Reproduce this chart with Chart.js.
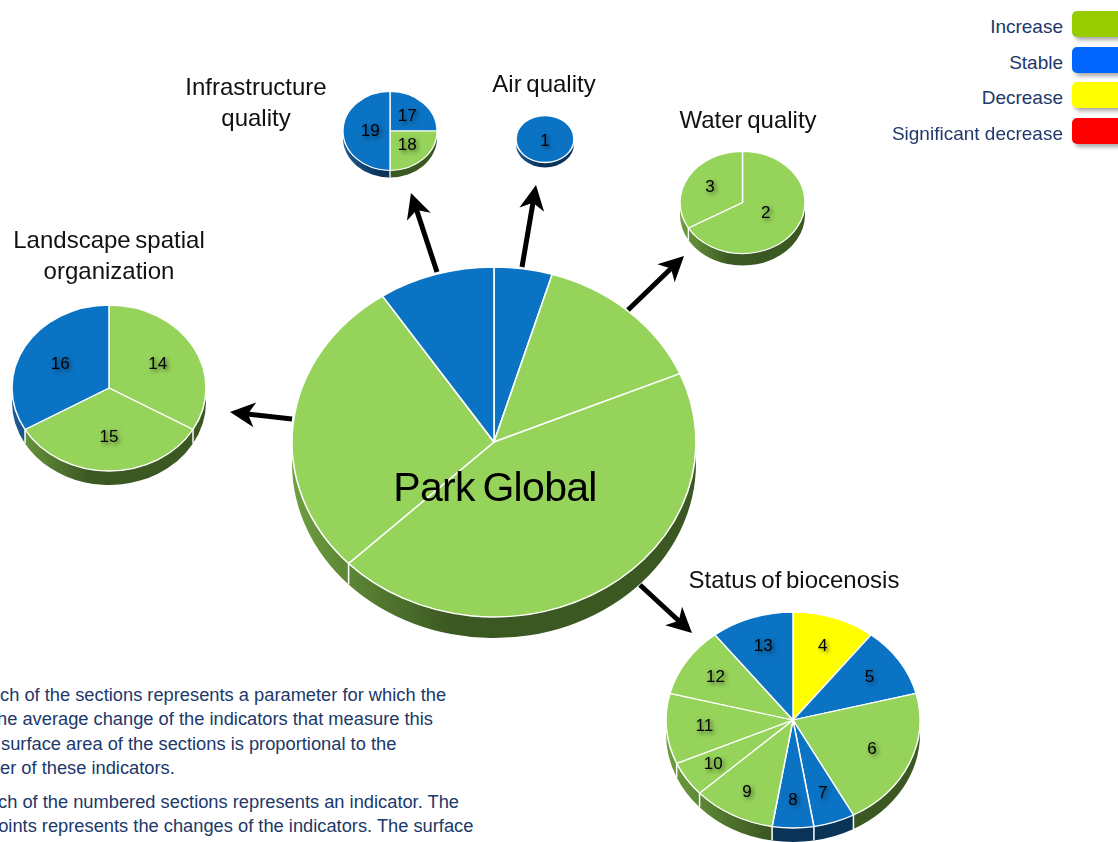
<!DOCTYPE html>
<html>
<head>
<meta charset="utf-8">
<title>Park Global – change of parameters and indicators</title>
<script src="https://cdn.jsdelivr.net/npm/chart.js@4.4.0/dist/chart.umd.min.js"></script>
<style>
  html, body { margin: 0; padding: 0; background: #ffffff; }
  #stage {
    position: relative; width: 1118px; height: 842px; overflow: hidden;
    font-family: "Liberation Sans", Arial, Helvetica, sans-serif;
  }
  .pie { position: absolute; }
  .title {
    position: absolute; width: 320px; text-align: center;
    font-size: 24px; line-height: 31px; color: #111111; word-spacing: -2px;
    white-space: pre;
  }
  .park {
    position: absolute; width: 400px; text-align: center;
    font-size: 41px; line-height: 41px; color: #000000; letter-spacing: -0.7px; word-spacing: -3px;
    white-space: nowrap;
  }
  .legend-text {
    position: absolute; right: 55px; font-size: 19px; line-height: 19px;
    color: #20386a; white-space: nowrap; text-align: right;
  }
  .swatch {
    position: absolute; left: 1072px; width: 64px; height: 26px; border-radius: 5px;
    box-shadow: 3px 3px 4px rgba(0, 0, 0, 0.35);
  }
  .note {
    position: absolute; font-size: 18.3px; line-height: 24px; color: #20386a;
    white-space: pre;
  }
  #arrows { position: absolute; left: 0; top: 0; }
</style>
</head>
<body>
<div id="stage"></div>
<script>
// ---- data -------------------------------------------------------------
// Park-wide parameters (clockwise from 12 o'clock) with their weight and trend
const parkParams  = ['Air quality', 'Water quality', 'Status of biocenosis', 'Landscape spatial organization', 'Infrastructure quality'];
const parkWeights = [1, 3, 9.5, 6, 2];
const parkTrends  = ['stable', 'increase', 'increase', 'increase', 'stable'];

// Indicators of each parameter (numbered sections)
const airIndicators   = ['1'];
const airWeights      = [1];
const airTrends       = ['stable'];

const waterIndicators = ['2', '3'];
const waterWeights    = [2, 1];
const waterTrends     = ['increase', 'increase'];

const bioIndicators   = ['4', '5', '6', '7', '8', '9', '10', '11', '12', '13'];
const bioWeights      = [2, 2, 4, 1, 1, 2, 1, 2, 2, 2];
const bioTrends       = ['decrease', 'stable', 'increase', 'stable', 'stable', 'increase', 'increase', 'increase', 'increase', 'stable'];

const landIndicators  = ['14', '15', '16'];
const landWeights     = [1, 1, 1];
const landTrends      = ['increase', 'increase', 'stable'];

const infraIndicators = ['17', '18', '19'];
const infraWeights    = [1, 1, 2];
const infraTrends     = ['stable', 'increase', 'stable'];

// Legend
const legendTrends = ['increase', 'stable', 'decrease', 'significant decrease'];
const legendLabels = ['Increase', 'Stable', 'Decrease', 'Significant decrease'];

// ---- styles -----------------------------------------------------------
const TREND_FILL = {
  'increase': '#95d35a',
  'stable': '#0b73c3',
  'decrease': '#ffff00',
  'significant decrease': '#ff0000'
};
const TREND_SIDE = {
  'increase': ['#6f9f40', '#3b5722'],
  'stable': ['#1d5b93', '#0a3358'],
  'decrease': ['#c9c900', '#8a8a00'],
  'significant decrease': ['#c00000', '#800000']
};
const LEGEND_FILL = {
  'increase': '#99cc00',
  'stable': '#0066ff',
  'decrease': '#ffff00',
  'significant decrease': '#ff0000'
};

const stage = document.getElementById('stage');

// Tilted 3-D look: squash the pie vertically and extrude a side wall under it
function makeTilt(spec) {
  const k = spec.ry / spec.rx;
  return {
    id: 'tilt' + spec.key,
    beforeDatasetsDraw(chart) {
      const ctx = chart.ctx;
      const arcs = chart.getDatasetMeta(0).data;
      const x = arcs[0].x, y = arcs[0].y, r = arcs[0].outerRadius;
      const D = spec.depth / k;
      ctx.save();
      ctx.translate(0, y);
      ctx.scale(1, k);
      ctx.translate(0, -y);
      arcs.forEach((arc, i) => {
        const a0 = Math.max(arc.startAngle, 0);
        const a1 = Math.min(arc.endAngle, Math.PI);
        if (a1 <= a0) return;
        const side = TREND_SIDE[spec.trends[i]];
        const g = ctx.createLinearGradient(x - r, 0, x + r, 0);
        g.addColorStop(0, side[0]);
        g.addColorStop(0.4, side[1]);
        g.addColorStop(1, side[1]);
        ctx.fillStyle = g;
        ctx.beginPath();
        ctx.arc(x, y, r, a0, a1);
        ctx.arc(x, y + D, r, a1, a0, true);
        ctx.closePath();
        ctx.fill();
      });
      // white seams on the side wall between sections
      ctx.strokeStyle = '#ffffff';
      ctx.lineWidth = spec.border;
      arcs.forEach(arc => {
        let a = arc.startAngle;
        while (a < 0) a += Math.PI * 2;
        while (a >= Math.PI * 2) a -= Math.PI * 2;
        if (a > 0.05 && a < Math.PI - 0.05 && arcs.length > 1) {
          const px = x + r * Math.cos(a), py = y + r * Math.sin(a);
          ctx.beginPath();
          ctx.moveTo(px, py);
          ctx.lineTo(px, py + D);
          ctx.stroke();
        }
      });
    },
    afterDatasetsDraw(chart) {
      const ctx = chart.ctx;
      const arcs = chart.getDatasetMeta(0).data;
      if (spec.rim) {
        // light outline for a single, undivided section
        ctx.strokeStyle = '#ffffff';
        ctx.lineWidth = spec.rim;
        ctx.beginPath();
        ctx.arc(arcs[0].x, arcs[0].y, arcs[0].outerRadius, 0, Math.PI * 2);
        ctx.stroke();
      }
      ctx.restore();
      if (!spec.labelR) return;
      const labels = chart.data.labels;
      ctx.save();
      ctx.font = '17px "Liberation Sans", Arial, sans-serif';
      ctx.textAlign = 'center';
      ctx.textBaseline = 'middle';
      ctx.fillStyle = '#000000';
      ctx.shadowColor = 'rgba(0,0,0,0.55)';
      ctx.shadowBlur = 4;
      ctx.shadowOffsetX = 2;
      ctx.shadowOffsetY = 2;
      arcs.forEach((arc, i) => {
        const mid = (arc.startAngle + arc.endAngle) / 2;
        const f = spec.labelR[i];
        const px = arc.x + f * arc.outerRadius * Math.cos(mid);
        const py = arc.y + f * arc.outerRadius * Math.sin(mid) * k + (spec.labelDy || 0);
        ctx.fillText(labels[i], px, py);
      });
      ctx.restore();
    }
  };
}

function addPie(spec) {
  const P = 10 + spec.depth;
  const size = Math.round(2 * spec.rx + 2 * P);
  const holder = document.createElement('div');
  holder.className = 'pie';
  holder.style.left = (spec.cx - spec.rx - P) + 'px';
  holder.style.top = (spec.cy - spec.rx - P) + 'px';
  const canvas = document.createElement('canvas');
  canvas.width = size;
  canvas.height = size;
  canvas.style.width = size + 'px';
  canvas.style.height = size + 'px';
  holder.appendChild(canvas);
  stage.appendChild(holder);
  new Chart(canvas, {
    type: 'pie',
    data: {
      labels: spec.labels,
      datasets: [{
        data: spec.values,
        backgroundColor: spec.trends.map(t => TREND_FILL[t]),
        borderColor: '#ffffff',
        borderWidth: spec.border,
        hoverOffset: 0
      }]
    },
    options: {
      responsive: false,
      animation: false,
      events: [],
      radius: spec.rx,
      layout: { padding: P },
      plugins: { legend: { display: false }, tooltip: { enabled: false } }
    },
    plugins: [makeTilt(spec)]
  });
}

addPie({ key: 'park',  labels: parkParams,      values: parkWeights,  trends: parkTrends,
         cx: 494, cy: 442, rx: 202, ry: 175, depth: 21, border: 1.6, labelR: null });
addPie({ key: 'air',   labels: airIndicators,   values: airWeights,   trends: airTrends,
         cx: 545, cy: 139, rx: 29, ry: 23.5, depth: 5, border: 0, rim: 1.6, labelR: [0], labelDy: 2 });
addPie({ key: 'water', labels: waterIndicators, values: waterWeights, trends: waterTrends,
         cx: 742, cy: 202, rx: 62.5, ry: 51, depth: 12, border: 1.4, labelR: [0.43, 0.6] });
addPie({ key: 'bio',   labels: bioIndicators,   values: bioWeights,   trends: bioTrends,
         cx: 793, cy: 720, rx: 127, ry: 108, depth: 14, border: 1.5, labelR: [0.72, 0.72, 0.68, 0.72, 0.74, 0.76, 0.75, 0.7, 0.73, 0.72] });
addPie({ key: 'land',  labels: landIndicators,  values: landWeights,  trends: landTrends,
         cx: 109, cy: 388, rx: 97, ry: 83, depth: 14, border: 1.5, labelR: [0.58, 0.6, 0.58] });
addPie({ key: 'infra', labels: infraIndicators, values: infraWeights, trends: infraTrends,
         cx: 390, cy: 131, rx: 47, ry: 39.5, depth: 7, border: 1.3, labelR: [0.52, 0.52, 0.42] });

// ---- text -------------------------------------------------------------
function addText(cls, text, css) {
  const d = document.createElement('div');
  d.className = cls;
  d.textContent = text;
  Object.assign(d.style, css);
  stage.appendChild(d);
  return d;
}
function addTitle(lines, cx, top) {
  addText('title', lines.join('\n'), { left: (cx - 160) + 'px', top: top + 'px' });
}
addTitle(['Infrastructure', 'quality'], 256, 71);
addTitle(['Air quality'], 544, 67.5);
addTitle(['Water quality'], 748, 103.5);
addTitle(['Landscape spatial', 'organization'], 109, 223.5);
addTitle(['Status of biocenosis'], 794, 564);
addText('park', 'Park Global', { left: (495 - 200) + 'px', top: '467px' });

// legend
legendTrends.forEach((t, i) => {
  const top = 11 + i * 35.7;
  addText('legend-text', legendLabels[i], { top: (top + 6) + 'px' });
  const sw = document.createElement('div');
  sw.className = 'swatch';
  sw.style.top = top + 'px';
  sw.style.background = LEGEND_FILL[t];
  stage.appendChild(sw);
});

// explanatory notes (the block runs past the left edge of the page)
const noteLines = [
  ['ch of the sections represents a parameter for which the', 0, 683],
  ['he average change of the indicators that measure this', -3, 707],
  ['surface area of the sections is proportional to the', 1, 731.5],
  ['er of these indicators.', 0, 756],
  ['ch of the numbered sections represents an indicator. The', -2, 790],
  ['points represents the changes of the indicators. The surface', -12, 814]
];
noteLines.forEach(([txt, left, top]) => addText('note', txt, { left: left + 'px', top: top + 'px' }));

// ---- arrows from the park pie to each parameter pie ----------------------
const arrowPaths = [
  [437, 272, 411, 193],
  [522, 267, 536, 185],
  [628, 310, 684, 256],
  [292, 419, 230, 412],
  [640, 585, 692, 633]
];
const NS = 'http://www.w3.org/2000/svg';
const svg = document.createElementNS(NS, 'svg');
svg.setAttribute('id', 'arrows');
svg.setAttribute('width', 1118);
svg.setAttribute('height', 842);
arrowPaths.forEach(([x0, y0, x1, y1]) => {
  const dx = x1 - x0, dy = y1 - y0, len = Math.hypot(dx, dy);
  const ux = dx / len, uy = dy / len, nx = -uy, ny = ux;
  const L = 25, W = 12.5, notch = 18;
  const bx = x1 - L * ux, by = y1 - L * uy;
  const mx = x1 - notch * ux, my = y1 - notch * uy;
  const line = document.createElementNS(NS, 'line');
  line.setAttribute('x1', x0); line.setAttribute('y1', y0);
  line.setAttribute('x2', mx + ux); line.setAttribute('y2', my + uy);
  line.setAttribute('stroke', '#000'); line.setAttribute('stroke-width', 5);
  svg.appendChild(line);
  const head = document.createElementNS(NS, 'polygon');
  head.setAttribute('points', [
    [x1, y1], [bx + W * nx, by + W * ny], [mx, my], [bx - W * nx, by - W * ny]
  ].map(p => p.join(',')).join(' '));
  head.setAttribute('fill', '#000');
  svg.appendChild(head);
});
stage.appendChild(svg);
</script>
</body>
</html>
